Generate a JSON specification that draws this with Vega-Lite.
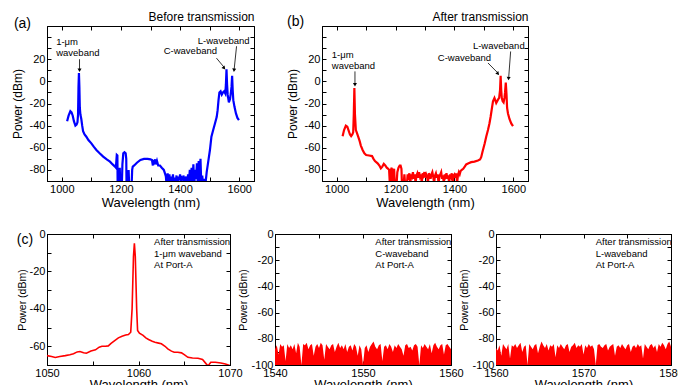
{
"$schema": "https://vega.github.io/schema/vega-lite/v6.json",
"padding": {"left": 10, "top": 10, "right": 0, "bottom": 0},
"config": {
 "font": "Liberation Sans",
 "view": {"stroke": "black", "strokeWidth": 1},
 "axis": {"grid": false, "domainColor": "black", "tickColor": "black", "tickSize": -4, "labelPadding": 6, "labelFontSize": 11, "labelColor": "black", "titleFontSize": 12, "titleFontWeight": "normal", "titleColor": "black", "titlePadding": 4, "labelFlush": false, "labelOverlap": false}
},
"datasets": {
 "a": [{"x":1018,"y":-36},{"x":1023,"y":-31},{"x":1029,"y":-27},{"x":1033,"y":-28},{"x":1037,"y":-31},{"x":1041,"y":-36},{"x":1046,"y":-40},{"x":1050,"y":-39},{"x":1053,"y":-37},{"x":1055,"y":-30},{"x":1056.5,"y":-5},{"x":1058,"y":7.5},{"x":1059.5,"y":-5},{"x":1061,"y":-24},{"x":1063,"y":-30},{"x":1066,"y":-34},{"x":1069,"y":-40},{"x":1072,"y":-45},{"x":1077,"y":-48},{"x":1083,"y":-50},{"x":1090,"y":-53},{"x":1100,"y":-56},{"x":1108,"y":-59},{"x":1117,"y":-62},{"x":1128,"y":-65},{"x":1140,"y":-68},{"x":1152,"y":-70.5},{"x":1163,"y":-72.5},{"x":1172,"y":-75},{"x":1180,"y":-77},{"x":1183,"y":-78},{"x":1185,"y":-70},{"x":1186,"y":-66.5},{"x":1188,"y":-67},{"x":1189,"y":-95},{"x":1194,"y":-95},{"x":1196,"y":-78},{"x":1198,"y":-95},{"x":1203,"y":-95},{"x":1205,"y":-75},{"x":1208,"y":-65},{"x":1212,"y":-64},{"x":1216,"y":-65},{"x":1218,"y":-70},{"x":1219,"y":-95},{"x":1224,"y":-95},{"x":1226,"y":-80},{"x":1228,"y":-95},{"x":1236,"y":-95},{"x":1238,"y":-80},{"x":1240,"y":-77},{"x":1245,"y":-76},{"x":1254,"y":-73.5},{"x":1266,"y":-71},{"x":1278,"y":-70},{"x":1290,"y":-70},{"x":1300,"y":-70.5},{"x":1305,"y":-71},{"x":1308,"y":-76},{"x":1310,"y":-71},{"x":1313,"y":-73},{"x":1316,"y":-70.5},{"x":1319,"y":-75},{"x":1322,"y":-72},{"x":1326,"y":-76},{"x":1332,"y":-76},{"x":1338,"y":-78},{"x":1345,"y":-80},{"x":1350,"y":-84},{"x":1352,"y":-86},{"x":1355,"y":-95},{"x":1358,"y":-83},{"x":1361,"y":-92},{"x":1364,"y":-84},{"x":1367,"y":-95},{"x":1370,"y":-86},{"x":1373,"y":-90},{"x":1376,"y":-84},{"x":1379,"y":-95},{"x":1382,"y":-87},{"x":1385,"y":-93},{"x":1388,"y":-85},{"x":1391,"y":-95},{"x":1394,"y":-86},{"x":1397,"y":-89},{"x":1400,"y":-84},{"x":1403,"y":-95},{"x":1406,"y":-87},{"x":1409,"y":-88},{"x":1412,"y":-85},{"x":1415,"y":-95},{"x":1418,"y":-88},{"x":1421,"y":-86},{"x":1424,"y":-95},{"x":1427,"y":-84},{"x":1430,"y":-90},{"x":1433,"y":-80},{"x":1436,"y":-95},{"x":1439,"y":-78},{"x":1442,"y":-92},{"x":1445,"y":-75},{"x":1448,"y":-95},{"x":1451,"y":-80},{"x":1454,"y":-88},{"x":1457,"y":-74},{"x":1460,"y":-95},{"x":1463,"y":-72},{"x":1466,"y":-90},{"x":1469,"y":-70},{"x":1472,"y":-95},{"x":1475,"y":-85},{"x":1478,"y":-95},{"x":1481,"y":-88},{"x":1485,"y":-95},{"x":1490,"y":-82},{"x":1495,"y":-73},{"x":1501,"y":-62},{"x":1506,"y":-50},{"x":1512,"y":-44},{"x":1518,"y":-38},{"x":1524,"y":-32},{"x":1527,"y":-26},{"x":1530,"y":-17},{"x":1533,"y":-10},{"x":1537,"y":-9},{"x":1541,"y":-12},{"x":1545,"y":-10},{"x":1549,"y":-9},{"x":1553,"y":-11},{"x":1555,"y":-3},{"x":1557,"y":11},{"x":1559,"y":-3},{"x":1561,"y":-12},{"x":1565,"y":-19},{"x":1569,"y":-16},{"x":1572,"y":-10},{"x":1574,"y":-5},{"x":1576,"y":5},{"x":1578,"y":-8},{"x":1580,"y":-17},{"x":1584,"y":-23},{"x":1589,"y":-29},{"x":1594,"y":-33},{"x":1599,"y":-35}],
 "b": [{"x":1020,"y":-49.5},{"x":1025,"y":-44},{"x":1031,"y":-40},{"x":1036,"y":-41},{"x":1040,"y":-44},{"x":1045,"y":-48},{"x":1049,"y":-49.5},{"x":1053,"y":-48},{"x":1056,"y":-46},{"x":1058,"y":-30},{"x":1060,"y":-6},{"x":1062,"y":-30},{"x":1065,"y":-44},{"x":1068,"y":-46},{"x":1073,"y":-50},{"x":1078,"y":-54},{"x":1082,"y":-58},{"x":1088,"y":-62},{"x":1094,"y":-65},{"x":1100,"y":-66.5},{"x":1110,"y":-67},{"x":1120,"y":-67.5},{"x":1125,"y":-70},{"x":1130,"y":-72},{"x":1139,"y":-74},{"x":1145,"y":-76},{"x":1150,"y":-78.5},{"x":1155,"y":-77},{"x":1160,"y":-74.5},{"x":1165,"y":-76},{"x":1170,"y":-78},{"x":1175,"y":-79},{"x":1178,"y":-80},{"x":1181,"y":-95},{"x":1184,"y":-80},{"x":1187,"y":-78},{"x":1189,"y":-95},{"x":1192,"y":-82},{"x":1195,"y":-79},{"x":1198,"y":-95},{"x":1203,"y":-95},{"x":1206,"y":-82},{"x":1210,"y":-78},{"x":1214,"y":-76},{"x":1217,"y":-76},{"x":1220,"y":-79},{"x":1222,"y":-95},{"x":1227,"y":-95},{"x":1230,"y":-84},{"x":1233,"y":-95},{"x":1238,"y":-95},{"x":1241,"y":-84},{"x":1244,"y":-86},{"x":1247,"y":-83},{"x":1250,"y":-92},{"x":1253,"y":-84},{"x":1256,"y":-86},{"x":1259,"y":-82},{"x":1262,"y":-88},{"x":1265,"y":-84},{"x":1268,"y":-92},{"x":1271,"y":-85},{"x":1274,"y":-83},{"x":1277,"y":-87},{"x":1280,"y":-82},{"x":1283,"y":-86},{"x":1286,"y":-84},{"x":1289,"y":-92},{"x":1292,"y":-83},{"x":1295,"y":-85},{"x":1298,"y":-82},{"x":1301,"y":-87},{"x":1304,"y":-84},{"x":1307,"y":-86},{"x":1310,"y":-92},{"x":1313,"y":-83},{"x":1316,"y":-85},{"x":1319,"y":-88},{"x":1322,"y":-84},{"x":1325,"y":-82},{"x":1328,"y":-86},{"x":1331,"y":-92},{"x":1334,"y":-85},{"x":1337,"y":-83},{"x":1340,"y":-87},{"x":1343,"y":-84},{"x":1346,"y":-92},{"x":1349,"y":-86},{"x":1352,"y":-84},{"x":1355,"y":-82},{"x":1358,"y":-88},{"x":1361,"y":-85},{"x":1364,"y":-92},{"x":1367,"y":-84},{"x":1370,"y":-86},{"x":1373,"y":-83},{"x":1376,"y":-88},{"x":1379,"y":-85},{"x":1382,"y":-92},{"x":1385,"y":-84},{"x":1388,"y":-86},{"x":1391,"y":-83},{"x":1394,"y":-92},{"x":1397,"y":-85},{"x":1400,"y":-84},{"x":1403,"y":-87},{"x":1406,"y":-83},{"x":1409,"y":-92},{"x":1412,"y":-85},{"x":1415,"y":-82},{"x":1418,"y":-84},{"x":1421,"y":-81},{"x":1425,"y":-80},{"x":1430,"y":-79},{"x":1435,"y":-77},{"x":1440,"y":-75},{"x":1448,"y":-74},{"x":1457,"y":-73},{"x":1468,"y":-72.5},{"x":1480,"y":-71.5},{"x":1487,"y":-70.5},{"x":1491,"y":-68.5},{"x":1495,"y":-64},{"x":1499,"y":-60},{"x":1503,"y":-56},{"x":1508,"y":-50},{"x":1514,"y":-44},{"x":1519,"y":-38},{"x":1523,"y":-32},{"x":1527,"y":-25},{"x":1531,"y":-18},{"x":1536,"y":-15},{"x":1542,"y":-19.5},{"x":1548,"y":-16.5},{"x":1552,"y":-15},{"x":1555,"y":-8},{"x":1557,"y":5},{"x":1559,"y":-8},{"x":1561,"y":-15},{"x":1564,"y":-18},{"x":1567,"y":-19},{"x":1570,"y":-15},{"x":1572,"y":-10},{"x":1574.5,"y":-1},{"x":1577,"y":-12},{"x":1579,"y":-24},{"x":1582,"y":-29},{"x":1587,"y":-34},{"x":1593,"y":-38},{"x":1599,"y":-40.5}],
 "c1": [{"x":1050,"y":-65},{"x":1050.5,"y":-65.5},{"x":1050.9,"y":-66},{"x":1051.4,"y":-65.5},{"x":1052,"y":-65},{"x":1052.5,"y":-64.5},{"x":1052.9,"y":-64},{"x":1053.3,"y":-63},{"x":1053.6,"y":-62.8},{"x":1054,"y":-63.5},{"x":1054.3,"y":-63.7},{"x":1054.8,"y":-62.5},{"x":1055.3,"y":-61.9},{"x":1055.7,"y":-60.5},{"x":1056,"y":-60},{"x":1056.4,"y":-60},{"x":1056.7,"y":-59.8},{"x":1057,"y":-58.5},{"x":1057.4,"y":-57},{"x":1057.8,"y":-55.5},{"x":1058.2,"y":-54.6},{"x":1058.6,"y":-54},{"x":1058.9,"y":-53.7},{"x":1059.15,"y":-52.5},{"x":1059.3,"y":-40},{"x":1059.45,"y":-12},{"x":1059.55,"y":-5},{"x":1059.65,"y":-12},{"x":1059.8,"y":-40},{"x":1059.9,"y":-51.5},{"x":1060.1,"y":-53},{"x":1060.5,"y":-54.2},{"x":1060.8,"y":-55.5},{"x":1061.1,"y":-56.4},{"x":1061.5,"y":-57.3},{"x":1061.8,"y":-57.8},{"x":1062.2,"y":-58.3},{"x":1062.5,"y":-58.7},{"x":1062.9,"y":-60},{"x":1063.2,"y":-61.4},{"x":1063.6,"y":-62.6},{"x":1063.9,"y":-63.2},{"x":1064.3,"y":-63.2},{"x":1064.7,"y":-63.5},{"x":1065,"y":-64.5},{"x":1065.4,"y":-65.9},{"x":1065.9,"y":-66.3},{"x":1066.5,"y":-66.4},{"x":1067,"y":-67},{"x":1067.4,"y":-69.4},{"x":1067.6,"y":-70.5},{"x":1067.9,"y":-68.5},{"x":1068.4,"y":-68.5},{"x":1069,"y":-68.9},{"x":1069.5,"y":-69.5},{"x":1070,"y":-70.3}],
 "c2": [{"x":1540.0,"y":-88},{"x":1540.2,"y":-85},{"x":1540.4,"y":-92},{"x":1540.6,"y":-84},{"x":1540.8,"y":-86},{"x":1541.0,"y":-85},{"x":1541.2,"y":-97},{"x":1541.4,"y":-84},{"x":1541.6,"y":-87},{"x":1541.8,"y":-85},{"x":1542.0,"y":-88},{"x":1542.2,"y":-84},{"x":1542.4,"y":-91},{"x":1542.6,"y":-83},{"x":1542.8,"y":-86},{"x":1543.0,"y":-100},{"x":1543.2,"y":-84},{"x":1543.4,"y":-85},{"x":1543.6,"y":-83},{"x":1543.8,"y":-88},{"x":1544.0,"y":-85},{"x":1544.2,"y":-84},{"x":1544.4,"y":-93},{"x":1544.6,"y":-86},{"x":1544.8,"y":-84},{"x":1545.0,"y":-87},{"x":1545.2,"y":-83},{"x":1545.4,"y":-85},{"x":1545.6,"y":-96},{"x":1545.8,"y":-84},{"x":1546.0,"y":-86},{"x":1546.2,"y":-88},{"x":1546.4,"y":-85},{"x":1546.6,"y":-84},{"x":1546.8,"y":-90},{"x":1547.0,"y":-86},{"x":1547.2,"y":-83},{"x":1547.4,"y":-87},{"x":1547.6,"y":-85},{"x":1547.8,"y":-88},{"x":1548.0,"y":-84},{"x":1548.2,"y":-90},{"x":1548.4,"y":-86},{"x":1548.6,"y":-85},{"x":1548.8,"y":-89},{"x":1549.0,"y":-84},{"x":1549.2,"y":-86},{"x":1549.4,"y":-93},{"x":1549.6,"y":-85},{"x":1549.8,"y":-88},{"x":1550.0,"y":-100},{"x":1550.2,"y":-87},{"x":1550.4,"y":-85},{"x":1550.6,"y":-90},{"x":1550.8,"y":-86},{"x":1551.0,"y":-84},{"x":1551.2,"y":-82},{"x":1551.4,"y":-86},{"x":1551.6,"y":-88},{"x":1551.8,"y":-85},{"x":1552.0,"y":-84},{"x":1552.2,"y":-97},{"x":1552.4,"y":-86},{"x":1552.6,"y":-85},{"x":1552.8,"y":-88},{"x":1553.0,"y":-84},{"x":1553.2,"y":-86},{"x":1553.4,"y":-90},{"x":1553.6,"y":-85},{"x":1553.8,"y":-87},{"x":1554.0,"y":-84},{"x":1554.2,"y":-86},{"x":1554.4,"y":-88},{"x":1554.6,"y":-93},{"x":1554.8,"y":-85},{"x":1555.0,"y":-84},{"x":1555.2,"y":-87},{"x":1555.4,"y":-86},{"x":1555.6,"y":-89},{"x":1555.8,"y":-85},{"x":1556.0,"y":-84},{"x":1556.2,"y":-86},{"x":1556.4,"y":-100},{"x":1556.6,"y":-85},{"x":1556.8,"y":-87},{"x":1557.0,"y":-84},{"x":1557.2,"y":-86},{"x":1557.4,"y":-88},{"x":1557.6,"y":-84},{"x":1557.8,"y":-91},{"x":1558.0,"y":-85},{"x":1558.2,"y":-83},{"x":1558.4,"y":-86},{"x":1558.6,"y":-88},{"x":1558.8,"y":-85},{"x":1559.0,"y":-84},{"x":1559.2,"y":-92},{"x":1559.4,"y":-85},{"x":1559.6,"y":-84},{"x":1559.8,"y":-86},{"x":1560.0,"y":-88}],
 "c3": [{"x":1560.0,"y":-87},{"x":1560.2,"y":-89},{"x":1560.4,"y":-85},{"x":1560.6,"y":-93},{"x":1560.8,"y":-84},{"x":1561.0,"y":-86},{"x":1561.2,"y":-88},{"x":1561.4,"y":-84},{"x":1561.6,"y":-95},{"x":1561.8,"y":-85},{"x":1562.0,"y":-86},{"x":1562.2,"y":-84},{"x":1562.4,"y":-87},{"x":1562.6,"y":-85},{"x":1562.8,"y":-83},{"x":1563.0,"y":-90},{"x":1563.2,"y":-86},{"x":1563.4,"y":-85},{"x":1563.6,"y":-100},{"x":1563.8,"y":-84},{"x":1564.0,"y":-86},{"x":1564.2,"y":-88},{"x":1564.4,"y":-85},{"x":1564.6,"y":-84},{"x":1564.8,"y":-91},{"x":1565.0,"y":-86},{"x":1565.2,"y":-82},{"x":1565.4,"y":-85},{"x":1565.6,"y":-87},{"x":1565.8,"y":-84},{"x":1566.0,"y":-89},{"x":1566.2,"y":-85},{"x":1566.4,"y":-86},{"x":1566.6,"y":-84},{"x":1566.8,"y":-94},{"x":1567.0,"y":-85},{"x":1567.2,"y":-87},{"x":1567.4,"y":-84},{"x":1567.6,"y":-86},{"x":1567.8,"y":-88},{"x":1568.0,"y":-85},{"x":1568.2,"y":-84},{"x":1568.4,"y":-90},{"x":1568.6,"y":-86},{"x":1568.8,"y":-85},{"x":1569.0,"y":-83},{"x":1569.2,"y":-87},{"x":1569.4,"y":-85},{"x":1569.6,"y":-86},{"x":1569.8,"y":-84},{"x":1570.0,"y":-92},{"x":1570.2,"y":-85},{"x":1570.4,"y":-87},{"x":1570.6,"y":-84},{"x":1570.8,"y":-86},{"x":1571.0,"y":-85},{"x":1571.2,"y":-88},{"x":1571.4,"y":-100},{"x":1571.6,"y":-85},{"x":1571.8,"y":-84},{"x":1572.0,"y":-86},{"x":1572.2,"y":-87},{"x":1572.4,"y":-85},{"x":1572.6,"y":-84},{"x":1572.8,"y":-89},{"x":1573.0,"y":-86},{"x":1573.2,"y":-85},{"x":1573.4,"y":-84},{"x":1573.6,"y":-93},{"x":1573.8,"y":-86},{"x":1574.0,"y":-85},{"x":1574.2,"y":-87},{"x":1574.4,"y":-84},{"x":1574.6,"y":-86},{"x":1574.8,"y":-88},{"x":1575.0,"y":-85},{"x":1575.2,"y":-84},{"x":1575.4,"y":-90},{"x":1575.6,"y":-86},{"x":1575.8,"y":-85},{"x":1576.0,"y":-87},{"x":1576.2,"y":-84},{"x":1576.4,"y":-86},{"x":1576.6,"y":-85},{"x":1576.8,"y":-95},{"x":1577.0,"y":-84},{"x":1577.2,"y":-86},{"x":1577.4,"y":-88},{"x":1577.6,"y":-85},{"x":1577.8,"y":-84},{"x":1578.0,"y":-87},{"x":1578.2,"y":-85},{"x":1578.4,"y":-90},{"x":1578.6,"y":-84},{"x":1578.8,"y":-86},{"x":1579.0,"y":-83},{"x":1579.2,"y":-85},{"x":1579.4,"y":-88},{"x":1579.6,"y":-84},{"x":1579.8,"y":-82},{"x":1580.0,"y":-86}]
},
"spacing": 17,
"vconcat": [
 {"hconcat": [
  {"width": 207, "height": 155,
   "resolve": {"axis": {"x": "independent", "y": "independent"}},
   "layer": [
    {"data": {"name": "a"}, "mark": {"type": "line", "color": "#0000ff", "strokeWidth": 2.2, "clip": true},
     "encoding": {
      "x": {"field": "x", "type": "quantitative", "scale": {"domain": [950, 1650], "nice": false, "zero": false}, "axis": {"values": [1000,1100,1200,1300,1400,1500,1600], "labelExpr": "datum.value % 200 == 0 ? '' + datum.value : ''", "title": "Wavelength (nm)", "titleFontSize": 13, "titlePadding": 2}},
      "y": {"field": "y", "type": "quantitative", "scale": {"domain": [-90, 50], "nice": false, "zero": false}, "axis": {"values": [-90,-80,-70,-60,-50,-40,-30,-20,-10,0,10,20,30,40], "labelExpr": "(datum.value % 20 == 0 && datum.value <= 20) ? '' + datum.value : ''", "title": "Power (dBm)", "titlePadding": 5}}}},
    {"data": {"values": [{"x": 981, "y": 35.5, "t": "1-μm"}, {"x": 981, "y": 25.6, "t": "waveband"}, {"x": 1344.6, "y": 27.1, "t": "C-waveband"}, {"x": 1460, "y": 36.2, "t": "L-waveband"}]},
     "mark": {"type": "text", "align": "left", "baseline": "middle", "fontSize": 9.5, "color": "black"},
     "encoding": {
      "x": {"field": "x", "type": "quantitative", "axis": {"orient": "top", "labels": false, "values": [1000,1100,1200,1300,1400,1500,1600], "title": "Before transmission", "titleAnchor": "end", "titlePadding": 2}},
      "y": {"field": "y", "type": "quantitative", "axis": {"orient": "right", "labels": false, "values": [-90,-80,-70,-60,-50,-40,-30,-20,-10,0,10,20,30,40], "title": null}},
      "text": {"field": "t"}}},
    {"data": {"values": [{"x": 1060, "y": 20, "x2": 1060, "y2": 11}, {"x": 1523, "y": 21, "x2": 1548, "y2": 13}, {"x": 1591, "y": 31.7, "x2": 1583, "y2": 11}]},
     "mark": {"type": "rule", "color": "black", "strokeWidth": 0.8},
     "encoding": {"x": {"field": "x", "type": "quantitative", "axis": null}, "y": {"field": "y", "type": "quantitative", "axis": null}, "x2": {"field": "x2"}, "y2": {"field": "y2"}}},
    {"data": {"values": [{"x": 1060, "y": 10}]}, "mark": {"type": "point", "shape": "triangle-up", "angle": 180, "filled": true, "size": 16, "color": "black", "opacity": 1},
     "encoding": {"x": {"field": "x", "type": "quantitative", "axis": null}, "y": {"field": "y", "type": "quantitative", "axis": null}}},
    {"data": {"values": [{"x": 1549, "y": 12}]}, "mark": {"type": "point", "shape": "triangle-up", "angle": 140, "filled": true, "size": 16, "color": "black", "opacity": 1},
     "encoding": {"x": {"field": "x", "type": "quantitative", "axis": null}, "y": {"field": "y", "type": "quantitative", "axis": null}}},
    {"data": {"values": [{"x": 1582.5, "y": 10}]}, "mark": {"type": "point", "shape": "triangle-up", "angle": 186, "filled": true, "size": 16, "color": "black", "opacity": 1},
     "encoding": {"x": {"field": "x", "type": "quantitative", "axis": null}, "y": {"field": "y", "type": "quantitative", "axis": null}}},
    {"data": {"values": [{"x": 838, "y": 51.8, "t": "(a)"}]}, "mark": {"type": "text", "align": "left", "baseline": "middle", "fontSize": 14, "color": "black"},
     "encoding": {"x": {"field": "x", "type": "quantitative", "axis": null}, "y": {"field": "y", "type": "quantitative", "axis": null}, "text": {"field": "t"}}}
   ]},
  {"width": 206, "height": 155,
   "resolve": {"axis": {"x": "independent", "y": "independent"}},
   "layer": [
    {"data": {"name": "b"}, "mark": {"type": "line", "color": "#ff0000", "strokeWidth": 2.2, "clip": true},
     "encoding": {
      "x": {"field": "x", "type": "quantitative", "scale": {"domain": [950, 1650], "nice": false, "zero": false}, "axis": {"values": [1000,1100,1200,1300,1400,1500,1600], "labelExpr": "datum.value % 200 == 0 ? '' + datum.value : ''", "title": "Wavelength (nm)", "titleFontSize": 13, "titlePadding": 2}},
      "y": {"field": "y", "type": "quantitative", "scale": {"domain": [-90, 50], "nice": false, "zero": false}, "axis": {"values": [-90,-80,-70,-60,-50,-40,-30,-20,-10,0,10,20,30,40], "labelExpr": "(datum.value % 20 == 0 && datum.value <= 20) ? '' + datum.value : ''", "title": "Power (dBm)", "titlePadding": 5}}}},
    {"data": {"values": [{"x": 983.4, "y": 23.5, "t": "1-μm"}, {"x": 983.4, "y": 13.6, "t": "waveband"}, {"x": 1343.5, "y": 21.1, "t": "C-waveband"}, {"x": 1462.8, "y": 31.7, "t": "L-waveband"}]},
     "mark": {"type": "text", "align": "left", "baseline": "middle", "fontSize": 9.5, "color": "black"},
     "encoding": {
      "x": {"field": "x", "type": "quantitative", "axis": {"orient": "top", "labels": false, "values": [1000,1100,1200,1300,1400,1500,1600], "title": "After transmission", "titleAnchor": "end", "titlePadding": 2}},
      "y": {"field": "y", "type": "quantitative", "axis": {"orient": "right", "labels": false, "values": [-90,-80,-70,-60,-50,-40,-30,-20,-10,0,10,20,30,40], "title": null}},
      "text": {"field": "t"}}},
    {"data": {"values": [{"x": 1062, "y": 9, "x2": 1062, "y2": -2}, {"x": 1514, "y": 16.6, "x2": 1546, "y2": 8}, {"x": 1591, "y": 27, "x2": 1584.5, "y2": 4}]},
     "mark": {"type": "rule", "color": "black", "strokeWidth": 0.8},
     "encoding": {"x": {"field": "x", "type": "quantitative", "axis": null}, "y": {"field": "y", "type": "quantitative", "axis": null}, "x2": {"field": "x2"}, "y2": {"field": "y2"}}},
    {"data": {"values": [{"x": 1062, "y": -3}]}, "mark": {"type": "point", "shape": "triangle-up", "angle": 180, "filled": true, "size": 16, "color": "black", "opacity": 1},
     "encoding": {"x": {"field": "x", "type": "quantitative", "axis": null}, "y": {"field": "y", "type": "quantitative", "axis": null}}},
    {"data": {"values": [{"x": 1548, "y": 6.9}]}, "mark": {"type": "point", "shape": "triangle-up", "angle": 137, "filled": true, "size": 16, "color": "black", "opacity": 1},
     "encoding": {"x": {"field": "x", "type": "quantitative", "axis": null}, "y": {"field": "y", "type": "quantitative", "axis": null}}},
    {"data": {"values": [{"x": 1584, "y": 2.5}]}, "mark": {"type": "point", "shape": "triangle-up", "angle": 184, "filled": true, "size": 16, "color": "black", "opacity": 1},
     "encoding": {"x": {"field": "x", "type": "quantitative", "axis": null}, "y": {"field": "y", "type": "quantitative", "axis": null}}},
    {"data": {"values": [{"x": 831, "y": 53.6, "t": "(b)"}]}, "mark": {"type": "text", "align": "left", "baseline": "middle", "fontSize": 14, "color": "black"},
     "encoding": {"x": {"field": "x", "type": "quantitative", "axis": null}, "y": {"field": "y", "type": "quantitative", "axis": null}, "text": {"field": "t"}}}
   ]}
 ], "spacing": 68, "bounds": "flush"},
 {"hconcat": [
  {"width": 183, "height": 131,
   "resolve": {"axis": {"x": "independent", "y": "independent"}},
   "layer": [
    {"data": {"name": "c1"}, "mark": {"type": "line", "color": "#ff0000", "strokeWidth": 1.6, "clip": true},
     "encoding": {
      "x": {"field": "x", "type": "quantitative", "scale": {"domain": [1050, 1070], "nice": false, "zero": false}, "axis": {"values": [1050,1055,1060,1065,1070], "labelExpr": "datum.value % 10 == 0 ? '' + datum.value : ''", "title": "Wavelength (nm)", "titleFontSize": 13, "titlePadding": 0}},
      "y": {"field": "y", "type": "quantitative", "scale": {"domain": [-70, 0], "nice": false, "zero": false}, "axis": {"values": [-70,-60,-50,-40,-30,-20,-10,0], "labelExpr": "datum.value % 20 == 0 ? '' + datum.value : ''", "title": "Power (dBm)", "titleFontSize": 10.5, "titlePadding": 2}}}},
    {"data": {"values": [{"x": 1061.7, "y": -4.5, "t": "After transmission"}, {"x": 1061.7, "y": -10.7, "t": "1-μm waveband"}, {"x": 1061.7, "y": -16.3, "t": "At Port-A"}]},
     "mark": {"type": "text", "align": "left", "baseline": "middle", "fontSize": 9.5, "color": "black"},
     "encoding": {
      "x": {"field": "x", "type": "quantitative", "axis": {"orient": "top", "labels": false, "values": [1050,1055,1060,1065,1070], "title": null}},
      "y": {"field": "y", "type": "quantitative", "axis": {"orient": "right", "labels": false, "values": [-70,-60,-50,-40,-30,-20,-10,0], "title": null}},
      "text": {"field": "t"}}},
    {"data": {"values": [{"x": 1046.7, "y": -3, "t": "(c)"}]}, "mark": {"type": "text", "align": "left", "baseline": "middle", "fontSize": 14, "color": "black"},
     "encoding": {"x": {"field": "x", "type": "quantitative", "axis": null}, "y": {"field": "y", "type": "quantitative", "axis": null}, "text": {"field": "t"}}}
   ]},
  {"width": 176, "height": 131,
   "resolve": {"axis": {"x": "independent", "y": "independent"}},
   "layer": [
    {"data": {"name": "c2"}, "mark": {"type": "area", "color": "#ff0000", "clip": true},
     "encoding": {
      "x": {"field": "x", "type": "quantitative", "scale": {"domain": [1540, 1560], "nice": false, "zero": false}, "axis": {"values": [1540,1545,1550,1555,1560], "labelExpr": "datum.value % 10 == 0 ? '' + datum.value : ''", "title": "Wavelength (nm)", "titleFontSize": 13, "titlePadding": 0}},
      "y": {"field": "y", "type": "quantitative", "scale": {"domain": [-100, 0], "nice": false, "zero": false}, "axis": {"values": [-100,-90,-80,-70,-60,-50,-40,-30,-20,-10,0], "labelExpr": "datum.value % 20 == 0 ? '' + datum.value : ''", "title": "Power (dBm)", "titleFontSize": 10.5, "titlePadding": 2}},
      "y2": {"datum": -100}}},
    {"data": {"values": [{"x": 1551.4, "y": -6.4, "t": "After transmission"}, {"x": 1551.4, "y": -15.3, "t": "C-waveband"}, {"x": 1551.4, "y": -23.3, "t": "At Port-A"}]},
     "mark": {"type": "text", "align": "left", "baseline": "middle", "fontSize": 9.5, "color": "black"},
     "encoding": {
      "x": {"field": "x", "type": "quantitative", "axis": {"orient": "top", "labels": false, "values": [1540,1545,1550,1555,1560], "title": null}},
      "y": {"field": "y", "type": "quantitative", "axis": {"orient": "right", "labels": false, "values": [-100,-90,-80,-70,-60,-50,-40,-30,-20,-10,0], "title": null}},
      "text": {"field": "t"}}}
   ]},
  {"width": 175, "height": 131,
   "resolve": {"axis": {"x": "independent", "y": "independent"}},
   "layer": [
    {"data": {"name": "c3"}, "mark": {"type": "area", "color": "#ff0000", "clip": true},
     "encoding": {
      "x": {"field": "x", "type": "quantitative", "scale": {"domain": [1560, 1580], "nice": false, "zero": false}, "axis": {"values": [1560,1565,1570,1575,1580], "labelExpr": "datum.value % 10 == 0 ? '' + datum.value : ''", "title": "Wavelength (nm)", "titleFontSize": 13, "titlePadding": 0}},
      "y": {"field": "y", "type": "quantitative", "scale": {"domain": [-100, 0], "nice": false, "zero": false}, "axis": {"values": [-100,-90,-80,-70,-60,-50,-40,-30,-20,-10,0], "labelExpr": "datum.value % 20 == 0 ? '' + datum.value : ''", "title": "Power (dBm)", "titleFontSize": 10.5, "titlePadding": 2}},
      "y2": {"datum": -100}}},
    {"data": {"values": [{"x": 1571.4, "y": -6.4, "t": "After transmission"}, {"x": 1571.4, "y": -15.3, "t": "L-waveband"}, {"x": 1571.4, "y": -23.3, "t": "At Port-A"}]},
     "mark": {"type": "text", "align": "left", "baseline": "middle", "fontSize": 9.5, "color": "black"},
     "encoding": {
      "x": {"field": "x", "type": "quantitative", "axis": {"orient": "top", "labels": false, "values": [1560,1565,1570,1575,1580], "title": null}},
      "y": {"field": "y", "type": "quantitative", "axis": {"orient": "right", "labels": false, "values": [-100,-90,-80,-70,-60,-50,-40,-30,-20,-10,0], "title": null}},
      "text": {"field": "t"}}}
   ]}
 ], "spacing": 45, "bounds": "flush"}
]
}
